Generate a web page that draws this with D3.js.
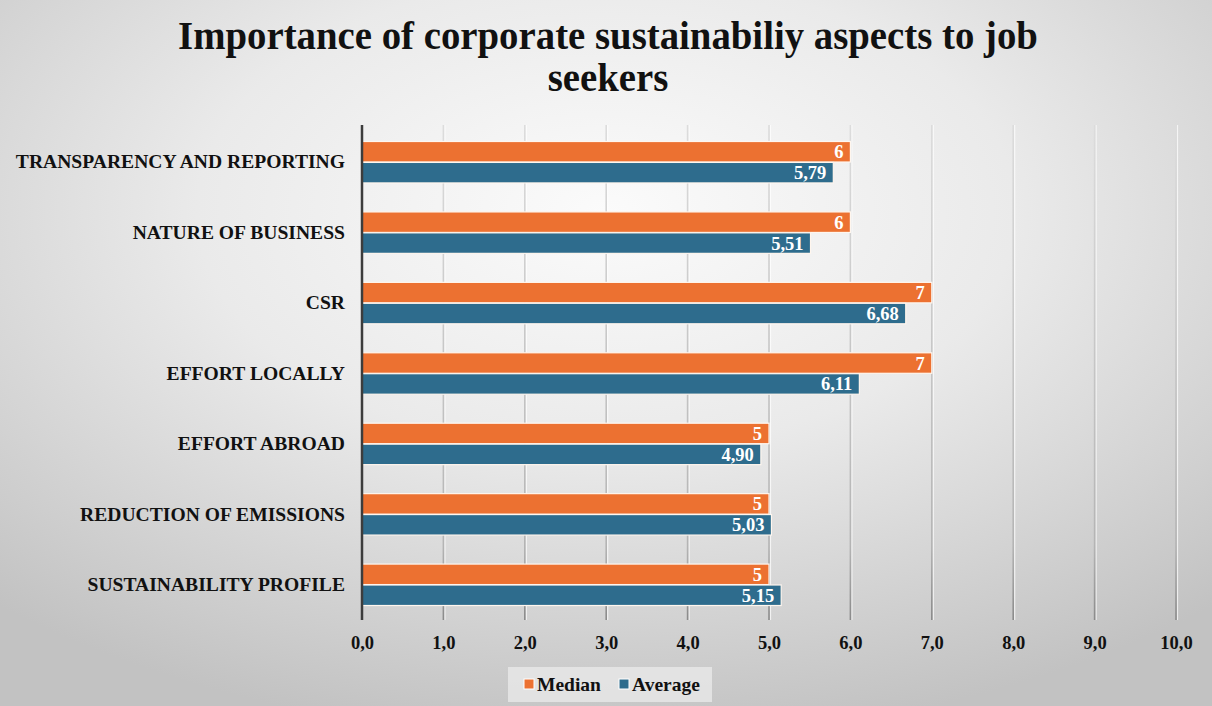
<!DOCTYPE html>
<html>
<head>
<meta charset="utf-8">
<script src="https://cdn.jsdelivr.net/npm/d3@7"></script>
<style>
  html, body { margin: 0; padding: 0; overflow: hidden; }
  svg { display: block; }
  text { font-family: "Liberation Serif", "Times New Roman", serif; font-weight: bold; }
</style>
</head>
<body>
<svg id="chart" width="1212" height="706"></svg>
<script>
// Aspects, top to bottom
const categories = [
  "TRANSPARENCY AND REPORTING",
  "NATURE OF BUSINESS",
  "CSR",
  "EFFORT LOCALLY",
  "EFFORT ABROAD",
  "REDUCTION OF EMISSIONS",
  "SUSTAINABILITY PROFILE"
];
const medianValues  = [6, 6, 7, 7, 5, 5, 5];
const averageValues = [5.79, 5.51, 6.68, 6.11, 4.90, 5.03, 5.15];
const seriesNames = ["Median", "Average"];
const xTicks = [0, 1, 2, 3, 4, 5, 6, 7, 8, 9, 10];
const titleLines = ["Importance of corporate sustainabiliy aspects to job", "seekers"];

const colors = { Median: "#EC7131", Average: "#2E6C8D" };
const W = 1212, H = 706;
const plot = { left: 362, right: 1176, top: 125, bottom: 620 };
const serif = "'Liberation Serif', 'Times New Roman', serif";

const svg = d3.select("#chart");
const defs = svg.append("defs");

// soft radial backdrop
const bg = defs.append("radialGradient").attr("id", "bg")
  .attr("cx", "50%").attr("cy", "30%").attr("r", "75%");
bg.append("stop").attr("offset", "0%").attr("stop-color", "#fbfbfb");
bg.append("stop").attr("offset", "45%").attr("stop-color", "#eaeaea");
bg.append("stop").attr("offset", "100%").attr("stop-color", "#c2c2c2");
svg.append("rect").attr("width", W).attr("height", H).attr("fill", "url(#bg)");

// gridline shading, lighter at the top
const gg = defs.append("linearGradient").attr("id", "grid")
  .attr("gradientUnits", "userSpaceOnUse")
  .attr("x1", 0).attr("y1", plot.top).attr("x2", 0).attr("y2", plot.bottom);
gg.append("stop").attr("offset", "0%").attr("stop-color", "#dcdcdc");
gg.append("stop").attr("offset", "85%").attr("stop-color", "#b4b4b4");
gg.append("stop").attr("offset", "100%").attr("stop-color", "#8a8a8a");

// Title, condensed horizontally
const titleG = svg.append("g");
const t1 = titleG.append("text").attr("x", 0).attr("y", 49)
  .attr("text-anchor", "middle").attr("font-size", 41).attr("fill", "#111")
  .text(titleLines[0]);
titleG.append("text").attr("x", 0).attr("y", 91)
  .attr("text-anchor", "middle").attr("font-size", 41).attr("fill", "#111")
  .text(titleLines[1]);
const natW = t1.node().getComputedTextLength();
titleG.attr("transform", `translate(608,0) scale(${860 / natW},1)`);

// Scales
const x = d3.scaleLinear().domain([0, 10]).range([plot.left, plot.right]);
const y = d3.scaleBand().domain(categories)
  .range([plot.top + 2, plot.bottom]).paddingInner(0.4).paddingOuter(0.2);
const ySub = d3.scaleBand().domain(seriesNames).range([0, y.bandwidth()]).padding(0.02);

// Gridlines
const gridG = svg.append("g");
xTicks.filter(d => d > 0).forEach(d => {
  gridG.append("line")
    .attr("x1", x(d) + 1.5).attr("x2", x(d) + 1.5)
    .attr("y1", plot.top).attr("y2", plot.bottom)
    .attr("stroke", "#ffffff").attr("stroke-opacity", 0.7).attr("stroke-width", 1.2);
  gridG.append("line")
    .attr("x1", x(d)).attr("x2", x(d))
    .attr("y1", plot.top).attr("y2", plot.bottom)
    .attr("stroke", "url(#grid)").attr("stroke-width", 1.6);
});

// Bars
const rows = categories.map((c, i) => ({
  category: c,
  values: [
    { series: "Median", value: medianValues[i], label: d3.format("d")(medianValues[i]) },
    { series: "Average", value: averageValues[i], label: averageValues[i].toFixed(2).replace(".", ",") }
  ]
}));

const groups = svg.append("g").selectAll("g").data(rows).join("g")
  .attr("transform", d => `translate(0,${y(d.category)})`);

groups.selectAll("rect").data(d => d.values).join("rect")
  .attr("x", x(0))
  .attr("y", d => ySub(d.series))
  .attr("width", d => x(d.value) - x(0))
  .attr("height", ySub.bandwidth())
  .attr("fill", d => colors[d.series])
  .attr("stroke", "#fff6ee").attr("stroke-width", 1.2);

groups.selectAll("text.val").data(d => d.values).join("text")
  .attr("class", "val")
  .attr("x", d => x(d.value) - 7)
  .attr("y", d => ySub(d.series) + ySub.bandwidth() / 2)
  .attr("dy", "0.35em")
  .attr("text-anchor", "end")
  .attr("font-size", 18.5)
  .attr("fill", "#ffffff")
  .text(d => d.label);

// Category axis
const yAxis = svg.append("g").attr("transform", `translate(${plot.left},0)`)
  .call(d3.axisLeft(y).tickSize(0).tickPadding(17));
yAxis.attr("font-family", null).attr("font-size", null);
yAxis.select(".domain").remove();
yAxis.selectAll("text")
  .attr("fill", "#111")
  .style("font-size", "19.6px")
  .style("font-family", serif)
  .style("font-weight", "bold");
svg.append("line")
  .attr("x1", plot.left).attr("x2", plot.left)
  .attr("y1", plot.top).attr("y2", plot.bottom)
  .attr("stroke", "#3c3c3c").attr("stroke-width", 2.5);

// Value axis labels
const xAxis = svg.append("g").attr("transform", `translate(0,${plot.bottom})`)
  .call(d3.axisBottom(x).tickValues(xTicks).tickSize(0).tickPadding(16)
    .tickFormat(d => d3.format(".1f")(d).replace(".", ",")));
xAxis.attr("font-family", null).attr("font-size", null);
xAxis.select(".domain").remove();
xAxis.selectAll("text")
  .attr("fill", "#111")
  .style("font-size", "18.5px")
  .style("font-family", serif)
  .style("font-weight", "bold");

// Legend
const legend = svg.append("g");
legend.append("rect").attr("x", 508).attr("y", 667).attr("width", 204).attr("height", 35)
  .attr("fill", "#e9e9e9").attr("fill-opacity", 0.8);
const legendItems = [
  { name: "Median", sx: 524 },
  { name: "Average", sx: 619 }
];
legendItems.forEach(it => {
  legend.append("rect").attr("x", it.sx).attr("y", 679).attr("width", 10).attr("height", 10)
    .attr("fill", colors[it.name]).attr("stroke", "#ffffff").attr("stroke-width", 1);
  legend.append("text").attr("x", it.sx + 13).attr("y", 691)
    .attr("font-size", 19.5).attr("fill", "#111").text(it.name);
});
</script>
</body>
</html>
